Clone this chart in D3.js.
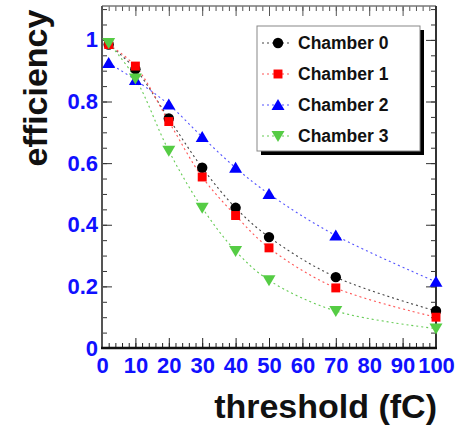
<!DOCTYPE html>
<html>
<head>
<meta charset="utf-8">
<script src="https://cdn.jsdelivr.net/npm/d3@7"></script>
<style>
  body { margin: 0; background: #fff; }
  svg { display: block; font-family: "Liberation Sans", Arial, Helvetica, sans-serif; }
</style>
</head>
<body>
<div id="chart"></div>
<script>
// threshold values (fC) and efficiencies
const thresholds = [2, 10, 20, 30, 40, 50, 70, 100];
const chamber0 = [0.985, 0.905, 0.745, 0.585, 0.455, 0.36, 0.23, 0.12];
const chamber1 = [0.985, 0.915, 0.735, 0.555, 0.43, 0.325, 0.195, 0.10];
const chamber2 = [0.925, 0.87, 0.79, 0.685, 0.585, 0.50, 0.365, 0.215];
const chamber3 = [0.99, 0.875, 0.64, 0.455, 0.315, 0.22, 0.12, 0.063];
const seriesNames = ['Chamber 0', 'Chamber 1', 'Chamber 2', 'Chamber 3'];
const xTicks = [0, 10, 20, 30, 40, 50, 60, 70, 80, 90, 100];
const yTicks = [0, 0.2, 0.4, 0.6, 0.8, 1];

const W = 471, H = 429;
const frame = { left: 102, right: 436, top: 6, bottom: 348 };

const series = [
    { name: seriesNames[0], values: chamber0, color: '#000000', line: '#444444', marker: 'circle' },
    { name: seriesNames[1], values: chamber1, color: '#ff0000', line: '#ff5555', marker: 'square' },
    { name: seriesNames[2], values: chamber2, color: '#0000ff', line: '#5555ff', marker: 'up' },
    { name: seriesNames[3], values: chamber3, color: '#55cc44', line: '#66cc55', marker: 'down' }
];

const svg = d3.select('#chart').append('svg')
    .attr('width', W)
    .attr('height', H);

const x = d3.scaleLinear().domain([0, 100]).range([frame.left, frame.right]);
const y = d3.scaleLinear().domain([0, 1.11]).range([frame.bottom, frame.top]);

function markerPath(type) {
    if (type === 'circle') return d3.symbol(d3.symbolCircle, 85)();
    if (type === 'square') return d3.symbol(d3.symbolSquare, 80)();
    if (type === 'up') return 'M0,-6L6.5,5L-6.5,5Z';
    return 'M0,6L-6.5,-5L6.5,-5Z';
}

// minor ticks
const minorX = d3.range(0, 101, 2);
const minorY = d3.range(0, 1.101, 0.05);

// bottom axis
svg.append('g')
    .attr('transform', `translate(0,${frame.bottom})`)
    .call(d3.axisBottom(x).tickValues(minorX).tickSize(-5).tickFormat(''))
    .call(g => g.select('.domain').remove())
    .call(g => g.selectAll('line').attr('stroke', '#222'));
svg.append('g')
    .attr('transform', `translate(0,${frame.bottom})`)
    .call(d3.axisBottom(x).tickValues(xTicks).tickSize(-10).tickPadding(9).tickFormat(d3.format('d')))
    .call(g => g.select('.domain').remove())
    .call(g => g.selectAll('line').attr('stroke', '#222'))
    .call(g => g.selectAll('text')
        .attr('fill', '#1010ff')
        .style('font-size', '22px')
        .style('font-weight', 'bold'));

// top axis (mirrored ticks)
svg.append('g')
    .attr('transform', `translate(0,${frame.top})`)
    .call(d3.axisTop(x).tickValues(minorX).tickSize(-5).tickFormat(''))
    .call(g => g.select('.domain').remove())
    .call(g => g.selectAll('line').attr('stroke', '#555'));
svg.append('g')
    .attr('transform', `translate(0,${frame.top})`)
    .call(d3.axisTop(x).tickValues(xTicks).tickSize(-10).tickFormat(''))
    .call(g => g.select('.domain').remove())
    .call(g => g.selectAll('line').attr('stroke', '#555'));

// left axis
svg.append('g')
    .attr('transform', `translate(${frame.left},0)`)
    .call(d3.axisLeft(y).tickValues(minorY).tickSize(-5).tickFormat(''))
    .call(g => g.select('.domain').remove())
    .call(g => g.selectAll('line').attr('stroke', '#333'));
svg.append('g')
    .attr('transform', `translate(${frame.left},0)`)
    .call(d3.axisLeft(y).tickValues(yTicks).tickSize(-10).tickPadding(4).tickFormat(d => d === 0 || d === 1 ? d3.format('d')(d) : d3.format('.1f')(d)))
    .call(g => g.select('.domain').remove())
    .call(g => g.selectAll('line').attr('stroke', '#333'))
    .call(g => g.selectAll('text')
        .attr('fill', '#1010ff')
        .style('font-size', '22px')
        .style('font-weight', 'bold'));

// right axis
svg.append('g')
    .attr('transform', `translate(${frame.right},0)`)
    .call(d3.axisRight(y).tickValues(minorY).tickSize(-5).tickFormat(''))
    .call(g => g.select('.domain').remove())
    .call(g => g.selectAll('line').attr('stroke', '#333'));
svg.append('g')
    .attr('transform', `translate(${frame.right},0)`)
    .call(d3.axisRight(y).tickValues(yTicks).tickSize(-10).tickFormat(''))
    .call(g => g.select('.domain').remove())
    .call(g => g.selectAll('line').attr('stroke', '#333'));

// frame
svg.append('line').attr('x1', frame.left).attr('x2', frame.right).attr('y1', frame.top).attr('y2', frame.top)
    .attr('stroke', '#777').attr('stroke-width', 1.5);
svg.append('line').attr('x1', frame.right).attr('x2', frame.right).attr('y1', frame.top).attr('y2', frame.bottom)
    .attr('stroke', '#333').attr('stroke-width', 2);
svg.append('line').attr('x1', frame.left).attr('x2', frame.left).attr('y1', frame.top).attr('y2', frame.bottom)
    .attr('stroke', '#555').attr('stroke-width', 2);
svg.append('line').attr('x1', frame.left - 1).attr('x2', frame.right + 1).attr('y1', frame.bottom).attr('y2', frame.bottom)
    .attr('stroke', '#111').attr('stroke-width', 2.5);

// curves
const line = d3.line()
    .x((d, i) => x(thresholds[i]))
    .y(d => y(d))
    .curve(d3.curveCatmullRom.alpha(0.5));

series.forEach(s => {
    svg.append('path')
        .datum(s.values)
        .attr('d', line)
        .attr('fill', 'none')
        .attr('stroke', s.line)
        .attr('stroke-width', 1.1)
        .attr('stroke-dasharray', '2,3');
});

series.forEach(s => {
    svg.selectAll(null)
        .data(s.values)
        .enter()
        .append('path')
        .attr('d', markerPath(s.marker))
        .attr('transform', (d, i) => `translate(${x(thresholds[i])},${y(d)})`)
        .attr('fill', s.color);
});

// legend
const lg = { x: 257, y: 26, w: 163, h: 125 };
svg.append('rect')
    .attr('x', lg.x + 4).attr('y', lg.y + 4)
    .attr('width', lg.w).attr('height', lg.h)
    .attr('fill', '#000');
svg.append('rect')
    .attr('x', lg.x).attr('y', lg.y)
    .attr('width', lg.w).attr('height', lg.h)
    .attr('fill', '#fff')
    .attr('stroke', '#888')
    .attr('stroke-width', 1);

series.forEach((s, i) => {
    const cy = 43 + i * 31;
    svg.append('line')
        .attr('x1', 262).attr('x2', 290).attr('y1', cy).attr('y2', cy)
        .attr('stroke', s.line).attr('stroke-width', 1.1).attr('stroke-dasharray', '2,3');
    svg.append('path')
        .attr('d', markerPath(s.marker))
        .attr('transform', `translate(278,${cy})`)
        .attr('fill', s.color);
    svg.append('text')
        .attr('x', 298).attr('y', cy + 6)
        .style('font-size', '17.5px')
        .style('font-weight', 'bold')
        .attr('fill', '#111')
        .text(s.name);
});

// titles
svg.append('text')
    .attr('x', 437).attr('y', 418)
    .attr('text-anchor', 'end')
    .style('font-size', '34px')
    .style('font-weight', 'bold')
    .attr('fill', '#111')
    .text('threshold (fC)');

svg.append('text')
    .attr('transform', 'translate(47,88) rotate(-90)')
    .attr('text-anchor', 'middle')
    .style('font-size', '34px')
    .style('font-weight', 'bold')
    .attr('fill', '#111')
    .text('efficiency');
</script>
</body>
</html>
